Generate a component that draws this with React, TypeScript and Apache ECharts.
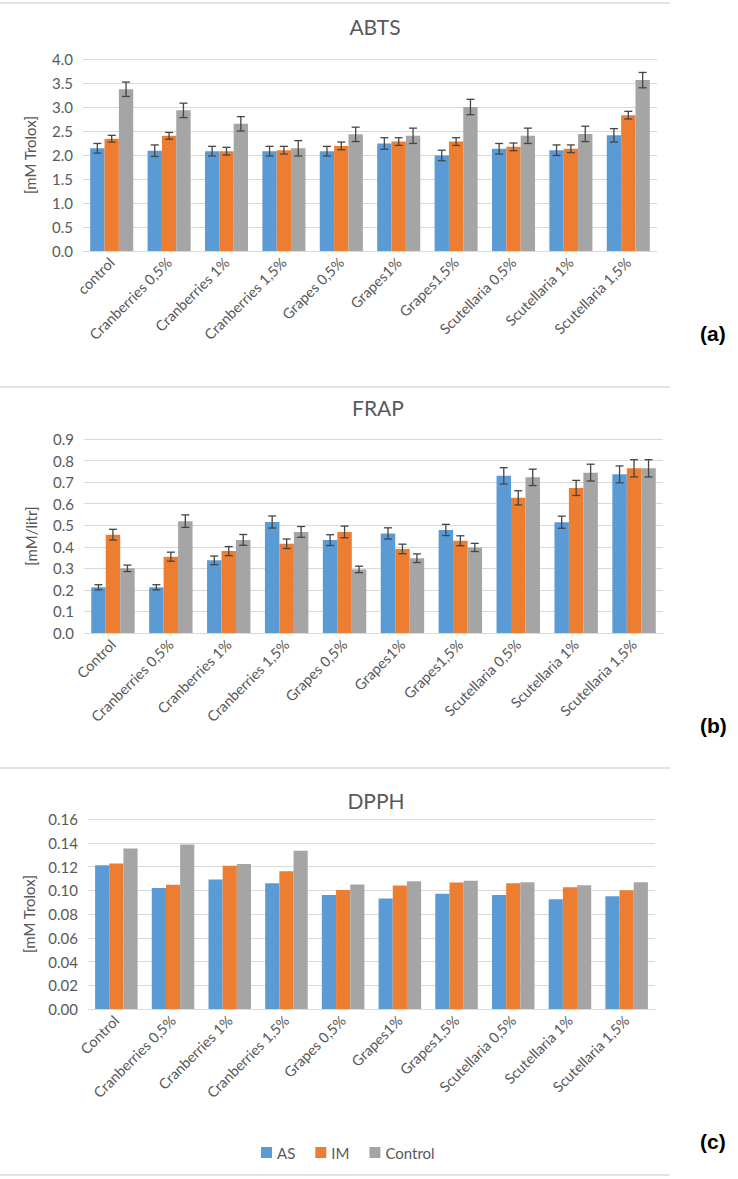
import React, { useEffect, useRef } from "react";
import * as echarts from "echarts";

const categoriesABTS = ["control", "Cranberries 0,5%", "Cranberries 1%", "Cranberries 1,5%", "Grapes 0,5%", "Grapes1%", "Grapes1,5%", "Scutellaria 0,5%", "Scutellaria 1%", "Scutellaria 1,5%"];
const categories = ["Control", "Cranberries 0,5%", "Cranberries 1%", "Cranberries 1,5%", "Grapes 0,5%", "Grapes1%", "Grapes1,5%", "Scutellaria 0,5%", "Scutellaria 1%", "Scutellaria 1,5%"];
const seriesNames = ["AS", "IM", "Control"];

const abtsAS = [2.14, 2.09, 2.08, 2.08, 2.08, 2.24, 1.99, 2.13, 2.10, 2.41];
const abtsIM = [2.34, 2.40, 2.08, 2.10, 2.19, 2.28, 2.28, 2.17, 2.13, 2.83];
const abtsCtrl = [3.37, 2.93, 2.65, 2.14, 2.43, 2.40, 3.00, 2.40, 2.44, 3.56];
const abtsErrAS = [0.10, 0.12, 0.10, 0.10, 0.10, 0.12, 0.11, 0.11, 0.11, 0.14];
const abtsErrIM = [0.07, 0.07, 0.08, 0.08, 0.08, 0.08, 0.08, 0.08, 0.08, 0.08];
const abtsErrCtrl = [0.15, 0.15, 0.15, 0.16, 0.15, 0.16, 0.16, 0.16, 0.16, 0.16];

const frapAS = [0.212, 0.212, 0.337, 0.515, 0.431, 0.462, 0.478, 0.729, 0.514, 0.736];
const frapIM = [0.456, 0.354, 0.38, 0.414, 0.469, 0.39, 0.428, 0.627, 0.673, 0.764];
const frapCtrl = [0.30, 0.519, 0.432, 0.469, 0.295, 0.347, 0.397, 0.722, 0.744, 0.764];
const frapErrAS = [0.012, 0.012, 0.02, 0.028, 0.025, 0.026, 0.026, 0.038, 0.028, 0.039];
const frapErrIM = [0.025, 0.021, 0.021, 0.022, 0.027, 0.022, 0.023, 0.033, 0.035, 0.04];
const frapErrCtrl = [0.015, 0.029, 0.025, 0.025, 0.015, 0.02, 0.019, 0.038, 0.039, 0.04];

const dpphAS = [0.121, 0.102, 0.109, 0.106, 0.096, 0.093, 0.097, 0.096, 0.0925, 0.095];
const dpphIM = [0.1225, 0.1046, 0.1206, 0.116, 0.1003, 0.104, 0.1065, 0.106, 0.1026, 0.100];
const dpphCtrl = [0.1351, 0.1385, 0.1222, 0.1332, 0.1048, 0.1076, 0.108, 0.1068, 0.1043, 0.1068];

const COLORS = ["#5B9BD5", "#ED7D31", "#A5A5A5"];
const FONT = "Lato, 'Open Sans', sans-serif";
const TXT = "#595959";
const GRID_LINE = "#D9D9D9";

export default function App() {
  const ref = useRef<HTMLDivElement>(null);
  useEffect(() => {
    if (!ref.current) return;
    const chart = echarts.init(ref.current, undefined, { renderer: "svg" });

    const grids = [
      { left: 83, right: 81, top: 59, height: 192 },
      { left: 84, right: 75, top: 439, height: 194 },
      { left: 88, right: 83, top: 819, height: 190 },
    ];
    const cats = [categoriesABTS, categories, categories];
    const yCfg = [
      { max: 4, interval: 0.5, dec: 1, name: "[mM Trolox]" },
      { max: 0.9, interval: 0.1, dec: 1, name: "[mM/litr]" },
      { max: 0.16, interval: 0.02, dec: 2, name: "[mM Trolox]" },
    ];
    const values = [
      [abtsAS, abtsIM, abtsCtrl],
      [frapAS, frapIM, frapCtrl],
      [dpphAS, dpphIM, dpphCtrl],
    ];
    const errors: (number[][] | null)[] = [
      [abtsErrAS, abtsErrIM, abtsErrCtrl],
      [frapErrAS, frapErrIM, frapErrCtrl],
      null,
    ];

    const xAxis = grids.map((_, g) => ({
      type: "category",
      gridIndex: g,
      data: cats[g],
      axisLine: { show: true, lineStyle: { color: GRID_LINE } },
      axisTick: { show: false },
      axisLabel: { interval: 0, rotate: 45, color: TXT, fontSize: 14.5, fontFamily: FONT, margin: 9 },
    }));
    const yAxis = grids.map((_, g) => ({
      type: "value",
      gridIndex: g,
      min: 0,
      max: yCfg[g].max,
      interval: yCfg[g].interval,
      name: yCfg[g].name,
      nameLocation: "middle",
      nameGap: g === 2 ? 52 : 46,
      nameTextStyle: { color: TXT, fontSize: 15, fontFamily: FONT },
      axisLine: { show: false },
      axisTick: { show: false },
      splitLine: { lineStyle: { color: GRID_LINE } },
      axisLabel: {
        color: TXT,
        fontSize: 15,
        fontFamily: FONT,
        margin: 10,
        formatter: (v: number) => v.toFixed(yCfg[g].dec),
      },
    }));

    const series: any[] = [];
    grids.forEach((_, g) => {
      seriesNames.forEach((name, i) => {
        series.push({
          type: "bar",
          name,
          xAxisIndex: g,
          yAxisIndex: g,
          data: values[g][i],
          barGap: "0%",
          barCategoryGap: "25%",
          itemStyle: { color: COLORS[i] },
        });
      });
      const errs = errors[g];
      if (errs) {
        seriesNames.forEach((name, i) => {
          series.push({
            type: "custom",
            name: name + " err",
            xAxisIndex: g,
            yAxisIndex: g,
            z: 10,
            encode: { x: 0, y: 1 },
            data: values[g][i].map((v, k) => [k, v, errs[i][k]]),
            renderItem: (params: any, api: any) => {
              const c = api.value(0);
              const v = api.value(1);
              const e = api.value(2);
              const band = api.size([1, 0])[0];
              const bw = (band * 0.75) / 3;
              const x = api.coord([c, v])[0] + (i - 1) * bw;
              const yTop = api.coord([c, v + e])[1];
              const yBot = api.coord([c, v - e])[1];
              const hw = 4;
              const style = { stroke: "#454545", lineWidth: 1.3 };
              return {
                type: "group",
                children: [
                  { type: "line", shape: { x1: x, y1: yTop, x2: x, y2: yBot }, style },
                  { type: "line", shape: { x1: x - hw, y1: yTop, x2: x + hw, y2: yTop }, style },
                  { type: "line", shape: { x1: x - hw, y1: yBot, x2: x + hw, y2: yBot }, style },
                ],
              };
            },
          });
        });
      }
    });

    const titleStyle = { color: TXT, fontSize: 21, fontFamily: FONT, fontWeight: "normal" };
    const panelLabel = (text: string, y: number) => ({
      type: "text",
      left: 700,
      top: y,
      style: { text, fill: "#000", font: "bold 21px Arial, 'Liberation Sans', sans-serif" },
    });
    const frameLine = (y: number) => ({
      type: "line",
      shape: { x1: 0, y1: y, x2: 670, y2: y },
      style: { stroke: GRID_LINE, lineWidth: 1.5 },
    });

    chart.setOption({
      animation: false,
      backgroundColor: "#fff",
      title: [
        { text: "ABTS", left: 370, top: 11, textAlign: "center", textStyle: titleStyle },
        { text: "FRAP", left: 373, top: 392, textAlign: "center", textStyle: titleStyle },
        { text: "DPPH", left: 371, top: 785, textAlign: "center", textStyle: titleStyle },
      ],
      legend: {
        data: seriesNames,
        left: 256,
        top: 1140,
        icon: "rect",
        itemWidth: 11,
        itemHeight: 11,
        itemGap: 20,
        textStyle: { color: TXT, fontSize: 15, fontFamily: FONT },
      },
      grid: grids,
      xAxis,
      yAxis,
      series,
      graphic: [
        frameLine(3),
        frameLine(387),
        frameLine(768),
        frameLine(1175),
        panelLabel("(a)", 323),
        panelLabel("(b)", 715),
        panelLabel("(c)", 1131),
      ],
    });
    return () => chart.dispose();
  }, []);
  return <div ref={ref} style={{ position: "absolute", left: 0, top: 0, width: 738, height: 1179 }} />;
}
